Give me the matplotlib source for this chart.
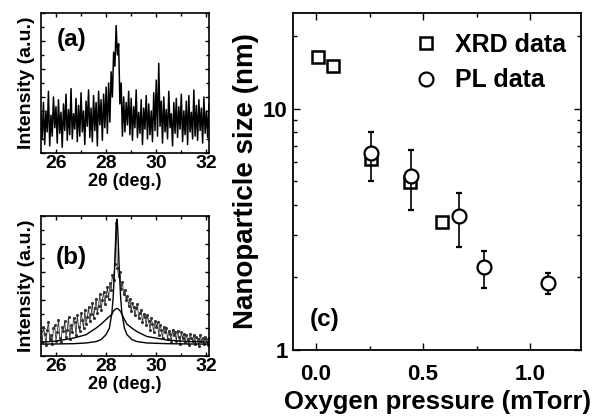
import matplotlib
matplotlib.use("Agg")
import matplotlib.pyplot as plt
from matplotlib.lines import Line2D
from matplotlib.ticker import MultipleLocator, NullFormatter, FixedLocator, FixedFormatter

plt.rcParams['font.family'] = ['Liberation Sans', 'DejaVu Sans']
plt.rcParams['font.weight'] = 'bold'

# ---------------- data ----------------
two_theta = [round(25.40 + 0.05 * i, 2) for i in range(135)]

intensity_a = [
    0.28, 0.10, 0.36, 0.06, 0.30, 0.15, 0.44, 0.05, 0.27, 0.12,
    0.40, 0.18, 0.33, 0.07, 0.38, 0.14, 0.29, 0.04, 0.35, 0.16,
    0.42, 0.09, 0.31, 0.13, 0.46, 0.10, 0.28, 0.17, 0.39, 0.08,
    0.34, 0.12, 0.43, 0.15, 0.30, 0.06, 0.37, 0.19, 0.45, 0.11,
    0.32, 0.08, 0.41, 0.16, 0.36, 0.05, 0.44, 0.20, 0.38, 0.09,
    0.42, 0.18, 0.47, 0.14, 0.50, 0.22, 0.58, 0.40, 0.72, 0.62,
    0.91, 0.70, 0.78, 0.35, 0.50, 0.12, 0.40, 0.15, 0.36, 0.20,
    0.44, 0.13, 0.39, 0.09, 0.33, 0.18, 0.45, 0.11, 0.29, 0.14,
    0.38, 0.06, 0.32, 0.17, 0.41, 0.10, 0.35, 0.13, 0.30, 0.08,
    0.43, 0.16, 0.52, 0.12, 0.64, 0.19, 0.37, 0.07, 0.40, 0.15,
    0.31, 0.10, 0.44, 0.18, 0.28, 0.05, 0.36, 0.14, 0.39, 0.11,
    0.33, 0.17, 0.42, 0.08, 0.30, 0.13, 0.37, 0.06, 0.41, 0.15,
    0.29, 0.10, 0.45, 0.12, 0.34, 0.09, 0.38, 0.16, 0.32, 0.07,
    0.40, 0.14, 0.30, 0.11, 0.35,
]

intensity_b = [
    0.18, 0.10, 0.21, 0.16, 0.08, 0.19, 0.24, 0.12, 0.15, 0.09,
    0.20, 0.22, 0.11, 0.17, 0.26, 0.13, 0.10, 0.21, 0.18, 0.25,
    0.14, 0.19, 0.28, 0.12, 0.22, 0.17, 0.27, 0.24, 0.15, 0.29,
    0.21, 0.18, 0.31, 0.26, 0.20, 0.33, 0.23, 0.28, 0.35, 0.25,
    0.30, 0.38, 0.27, 0.34, 0.41, 0.31, 0.36, 0.44, 0.33, 0.40,
    0.46, 0.37, 0.43, 0.49, 0.41, 0.52, 0.47, 0.58, 0.54, 0.66,
    0.95, 0.63, 0.57, 0.60, 0.48, 0.53, 0.44, 0.47, 0.40, 0.43,
    0.36, 0.41, 0.32, 0.38, 0.35, 0.29, 0.34, 0.37, 0.27, 0.31,
    0.33, 0.24, 0.30, 0.28, 0.22, 0.29, 0.25, 0.19, 0.27, 0.23,
    0.17, 0.25, 0.21, 0.24, 0.15, 0.22, 0.19, 0.13, 0.21, 0.17,
    0.20, 0.12, 0.18, 0.16, 0.10, 0.19, 0.15, 0.17, 0.11, 0.18,
    0.14, 0.09, 0.17, 0.13, 0.16, 0.10, 0.15, 0.12, 0.08, 0.16,
    0.13, 0.11, 0.15, 0.09, 0.14, 0.12, 0.07, 0.15, 0.11, 0.13,
    0.09, 0.14, 0.12, 0.08, 0.13,
]

fit_x = [25.40, 26.00, 26.70, 27.20, 27.60, 27.80, 28.00, 28.13, 28.23, 28.28,
         28.33, 28.355, 28.38, 28.405, 28.43, 28.455, 28.48, 28.505, 28.53,
         28.58, 28.63, 28.73, 28.83, 29.03, 29.23, 29.63, 30.43, 31.20, 32.10]
fit_narrow = [0.086, 0.087, 0.089, 0.094, 0.104, 0.118, 0.154, 0.200, 0.308, 0.416,
              0.593, 0.711, 0.835, 0.936, 0.976, 0.936, 0.835, 0.711, 0.593,
              0.416, 0.308, 0.200, 0.154, 0.118, 0.104, 0.094, 0.089, 0.087, 0.086]
fit_broad = [0.100, 0.107, 0.129, 0.153, 0.200, 0.228, 0.262, 0.283, 0.298, 0.318,
             0.328, 0.333, 0.336, 0.339, 0.340, 0.339, 0.336, 0.333, 0.328,
             0.318, 0.298, 0.262, 0.228, 0.200, 0.175, 0.140, 0.115, 0.105, 0.100]

xrd_p = [0.01, 0.08, 0.255, 0.44, 0.59]
xrd_size = [16.5, 15.1, 6.2, 4.95, 3.38]

pl_p = [0.255, 0.445, 0.668, 0.787, 1.085]
pl_size = [6.55, 5.29, 3.60, 2.20, 1.89]
pl_low = [5.00, 3.79, 2.68, 1.80, 1.70]
pl_high = [8.00, 6.76, 4.47, 2.58, 2.08]

# ---------------- figure ----------------
fig = plt.figure(figsize=(6.02, 4.2), dpi=100)
ax_a = fig.add_axes([0.068, 0.636, 0.279, 0.333])
ax_b = fig.add_axes([0.068, 0.152, 0.279, 0.334])
ax_c = fig.add_axes([0.487, 0.167, 0.478, 0.802])


def style_xrd(ax):
    ax.set_xlim(25.4, 32.1)
    ax.set_ylim(0, 1.0)
    ax.xaxis.set_major_locator(FixedLocator([26, 28, 30, 32]))
    ax.xaxis.set_minor_locator(FixedLocator([27, 29, 31]))
    ax.yaxis.set_major_locator(MultipleLocator(0.2))
    ax.yaxis.set_minor_locator(MultipleLocator(0.1))
    ax.yaxis.set_major_formatter(NullFormatter())
    ax.tick_params(which='both', direction='in', top=True, right=True,
                   labelsize=14, pad=1.5, width=1)
    ax.tick_params(which='major', length=3)
    ax.tick_params(which='minor', length=2)
    ax.set_xlabel('2θ (deg.)', fontsize=13, fontweight='bold', labelpad=0.5)
    ax.set_ylabel('Intensity (a.u.)', fontsize=14, fontweight='bold', labelpad=3)
    for s in ax.spines.values():
        s.set_linewidth(1.2)


ax_a.plot(two_theta, intensity_a, color='black', lw=1.1)
style_xrd(ax_a)
ax_a.text(0.18, 0.81, '(a)', transform=ax_a.transAxes, fontsize=17.5,
          fontweight='bold', ha='center', va='center')

ax_b.plot(two_theta, intensity_b, color='#333333', lw=0.6, marker='.', ms=2.5)
ax_b.plot(fit_x, fit_broad, color='black', lw=1.0)
ax_b.plot(fit_x, fit_narrow, color='black', lw=1.0)
style_xrd(ax_b)
ax_b.text(0.18, 0.70, '(b)', transform=ax_b.transAxes, fontsize=17.5,
          fontweight='bold', ha='center', va='center')

# panel (c)
ax_c.plot(xrd_p, xrd_size, linestyle='none', marker='s', ms=8, mfc='white',
          mec='black', mew=1.8)
yerr = [[s - l for s, l in zip(pl_size, pl_low)],
        [h - s for s, h in zip(pl_size, pl_high)]]
ax_c.errorbar(pl_p, pl_size, yerr=yerr, linestyle='none', marker='o', ms=10,
              mfc='white', mec='black', mew=1.6, ecolor='black', elinewidth=1.2,
              capsize=2.5, capthick=1.2)
ax_c.set_yscale('log')
ax_c.set_xlim(-0.107, 1.238)
ax_c.set_ylim(1, 25)
ax_c.xaxis.set_major_locator(FixedLocator([0.0, 0.5, 1.0]))
ax_c.xaxis.set_major_formatter(FixedFormatter(['0.0', '0.5', '1.0']))
ax_c.xaxis.set_minor_locator(FixedLocator([0.25, 0.75]))
ax_c.yaxis.set_major_locator(FixedLocator([1, 10]))
ax_c.yaxis.set_major_formatter(FixedFormatter(['1', '10']))
ax_c.yaxis.set_minor_locator(FixedLocator([2, 3, 4, 5, 6, 7, 8, 9, 20]))
ax_c.yaxis.set_minor_formatter(NullFormatter())
ax_c.tick_params(which='both', direction='in', top=True, right=True,
                 labelsize=16, width=1)
ax_c.tick_params(axis='x', pad=10)
ax_c.tick_params(axis='y', pad=4)
ax_c.tick_params(which='major', length=5)
ax_c.tick_params(which='minor', length=3)
for s in ax_c.spines.values():
    s.set_linewidth(1.3)
ax_c.set_xlabel('Oxygen pressure (mTorr)', fontsize=18.5, fontweight='bold', labelpad=4)
ax_c.set_ylabel('Nanoparticle size (nm)', fontsize=20, fontweight='bold', labelpad=3)
ax_c.text(0.111, 0.089, '(c)', transform=ax_c.transAxes, fontsize=17.5,
          fontweight='bold', ha='center', va='center')
handles = [
    Line2D([], [], linestyle='none', marker='s', ms=8, mfc='white', mec='black', mew=1.8),
    Line2D([], [], linestyle='none', marker='o', ms=10, mfc='white', mec='black', mew=1.6),
]
leg = ax_c.legend(handles, ['XRD data', 'PL data'], loc='upper left',
                  bbox_to_anchor=(0.375, 0.985), frameon=False, fontsize=18,
                  handlelength=0.8, handletextpad=0.75, labelspacing=0.45,
                  borderaxespad=0.2)
for t in leg.get_texts():
    t.set_fontweight('bold')

fig.savefig('out.png', dpi=100)
